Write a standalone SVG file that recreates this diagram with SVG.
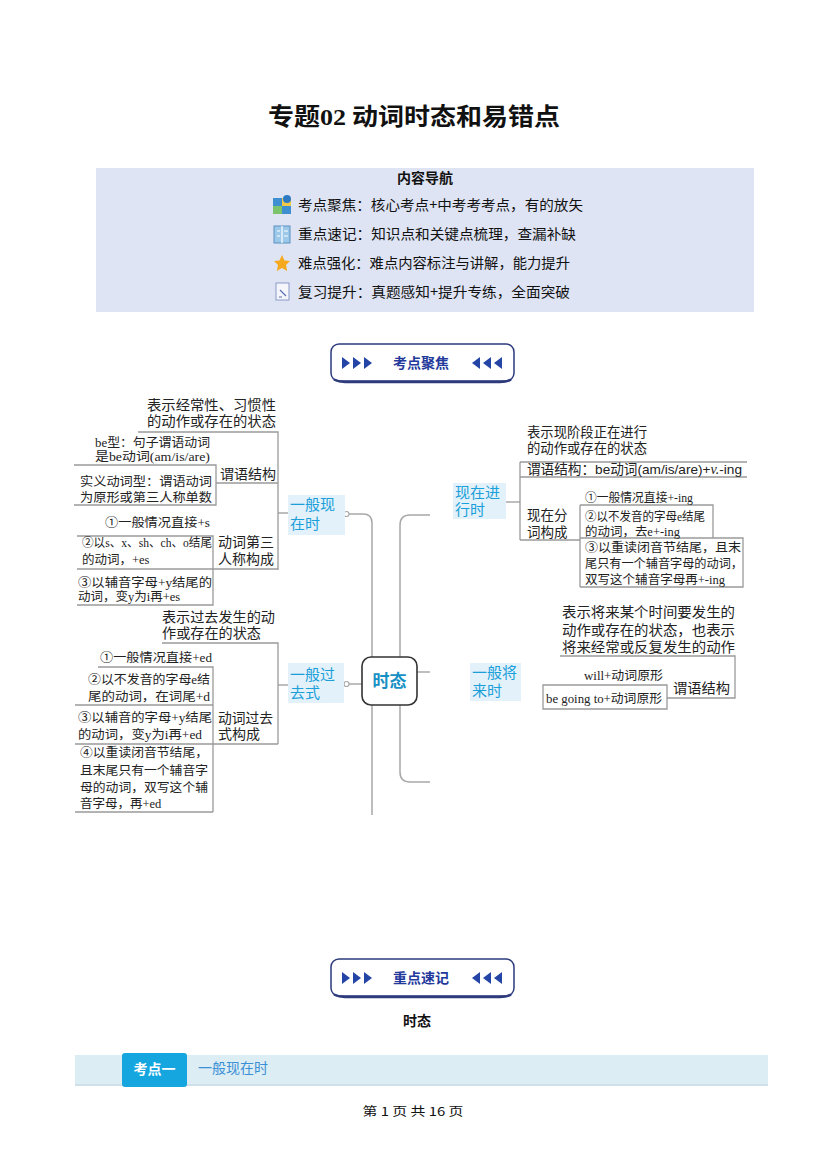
<svg xmlns="http://www.w3.org/2000/svg" width="827" height="1169" viewBox="0 0 827 1169">
<style>
.t{font-family:"Liberation Sans","Noto Sans CJK SC",sans-serif;fill:#222;}
.s{font-size:12.5px;font-family:"Liberation Serif","Noto Sans CJK SC",serif;}
.m{font-size:14px;}
.br{font-family:"Liberation Sans","Noto Sans CJK SC",sans-serif;font-size:15px;fill:#1a9fd9;}
.nb{fill:#e3f1fb;}
.ln{fill:none;stroke:#9a9a9a;stroke-width:1.3;}
.cn{fill:none;stroke:#a8a8a8;stroke-width:1.5;}
.bn{fill:#fff;stroke:#2d3b7d;stroke-width:1.5;}
.tri{fill:#2444a6;}
.bt{font-family:"Noto Sans CJK SC",sans-serif;font-size:14px;font-weight:bold;fill:#23399b;}
.nav{font-family:"Noto Sans CJK SC",sans-serif;font-size:14px;fill:#111;}
</style>
<defs>
<g id="tr"><path d="M0 -6 L8 0 L0 6 Z"/></g>
<g id="tl"><path d="M8 -6 L0 0 L8 6 Z"/></g>
</defs>
<rect width="827" height="1169" fill="#fff"/>

<g id="title">
<text x="414" y="125" text-anchor="middle" font-family="'Noto Sans CJK SC',sans-serif" font-size="24" font-weight="bold" fill="#111" textLength="292" lengthAdjust="spacingAndGlyphs"><tspan>专题</tspan><tspan font-family="'Liberation Serif',serif">02</tspan><tspan>  动词时态和易错点</tspan></text>
</g>

<g id="nav">
<rect x="96" y="168" width="658" height="144" fill="#dee4f3"/>
<text x="425" y="183" text-anchor="middle" class="nav" font-weight="bold">内容导航</text>
<g id="icon1">
<rect x="273" y="198" width="18" height="16" fill="#3d8fd0"/>
<rect x="273" y="206" width="9" height="8" fill="#7cc36b"/>
<rect x="282" y="198" width="9" height="8" fill="#f2c84b"/>
<circle cx="287" cy="199" r="4" fill="#2e7bc4"/>
</g>
<text x="298" y="210" class="nav" textLength="285" lengthAdjust="spacingAndGlyphs">考点聚焦：核心考点+中考考考点，有的放矢</text>
<g id="icon2">
<rect x="274" y="226" width="16" height="17" fill="#9cc9ea" stroke="#5a8fbf" stroke-width="1"/>
<path d="M282 226 V243 M277 231 H280 M284 231 H288 M277 236 H280 M284 236 H288" stroke="#fff" stroke-width="1.2"/>
</g>
<text x="298" y="239" class="nav" textLength="278" lengthAdjust="spacingAndGlyphs">重点速记：知识点和关键点梳理，查漏补缺</text>
<g id="icon3">
<path d="M282 255 L284.5 260.5 L290 261 L286 265 L287.2 271 L282 268 L276.8 271 L278 265 L274 261 L279.5 260.5 Z" fill="#f4a91e"/>
</g>
<text x="298" y="268" class="nav" textLength="272" lengthAdjust="spacingAndGlyphs">难点强化：难点内容标注与讲解，能力提升</text>
<g id="icon4">
<rect x="276" y="283" width="13" height="17" fill="#f4f6fb" stroke="#8a9ac8" stroke-width="1"/>
<path d="M280 290 L286 296 M279 297 H282" stroke="#5a6fb0" stroke-width="1.2"/>
</g>
<text x="298" y="297" class="nav" textLength="272" lengthAdjust="spacingAndGlyphs">复习提升：真题感知+提升专练，全面突破</text>
</g>

<g id="banner1">
<rect x="331" y="344" width="183" height="37" rx="8" class="bn"/>
<path d="M334 379.5 Q339 382 345 382 H500 Q507 382 511 379.5" fill="none" stroke="#2d3b7d" stroke-width="2.5"/>
<use href="#tr" x="342" y="363" class="tri"/>
<use href="#tr" x="353" y="363" class="tri"/>
<use href="#tr" x="364" y="363" class="tri"/>
<text x="421" y="368" text-anchor="middle" class="bt">考点聚焦</text>
<use href="#tl" x="472" y="363" class="tri"/>
<use href="#tl" x="483" y="363" class="tri"/>
<use href="#tl" x="494" y="363" class="tri"/>
</g>

<g id="connectors">
<path class="cn" d="M349 514 H363 Q372 514 372 523 V815"/>
<path class="cn" d="M430 515 H410 Q400 515 400 525 V772 Q400 782 410 782 H430"/>
<path class="cn" d="M417 672 H430"/>
<path class="cn" d="M349 684 H362"/>
<path class="cn" d="M278 513 H288"/>
<path class="cn" d="M278 685 H288"/>
<path class="cn" d="M506 502 H520"/>
<circle cx="346.5" cy="514" r="2.5" fill="#fff" stroke="#a8a8a8" stroke-width="1.2"/>
<circle cx="346.5" cy="684" r="2.5" fill="#fff" stroke="#a8a8a8" stroke-width="1.2"/>
</g>

<g id="center-node">
<rect x="362" y="657" width="55" height="48" rx="9" fill="#fff" stroke="#333" stroke-width="1.6"/>
<text x="389.5" y="687" text-anchor="middle" font-family="'Noto Sans CJK SC',sans-serif" font-size="17" font-weight="bold" fill="#1690c4">时态</text>
</g>

<g id="node-present-simple">
<rect x="288" y="495" width="57" height="40" class="nb"/>
<text class="br"><tspan x="290" y="510">一般现</tspan><tspan x="290" y="529">在时</tspan></text>
</g>
<g id="present-simple-tree">
<path class="ln" d="M138 432 H278 V570"/>
<text class="t m"><tspan x="147" y="410" textLength="129" lengthAdjust="spacingAndGlyphs">表示经常性、习惯性</tspan><tspan x="147" y="426" textLength="129" lengthAdjust="spacingAndGlyphs">的动作或存在的状态</tspan></text>
<text class="t s"><tspan x="95" y="447" textLength="115" lengthAdjust="spacingAndGlyphs">be型：句子谓语动词</tspan><tspan x="95" y="461" textLength="115" lengthAdjust="spacingAndGlyphs">是be动词(am/is/are)</tspan></text>
<path class="ln" d="M74 465 H216 V505 H74"/>
<path class="ln" d="M216 483 H278"/>
<text x="220" y="479" class="t m" textLength="56" lengthAdjust="spacingAndGlyphs">谓语结构</text>
<text class="t s"><tspan x="80" y="486" textLength="132" lengthAdjust="spacingAndGlyphs">实义动词型：谓语动词</tspan><tspan x="80" y="502" textLength="132" lengthAdjust="spacingAndGlyphs">为原形或第三人称单数</tspan></text>
<text x="105" y="527" class="t s" textLength="105" lengthAdjust="spacingAndGlyphs">①一般情况直接+s</text>
<path class="ln" d="M77 536 H213 V605 H77 M77 569 H278"/>
<text class="t s"><tspan x="82" y="547" textLength="130" lengthAdjust="spacingAndGlyphs">②以s、x、sh、ch、o结尾</tspan><tspan x="82" y="564">的动词，+es</tspan></text>
<text class="t m"><tspan x="218" y="547" textLength="56" lengthAdjust="spacingAndGlyphs">动词第三</tspan><tspan x="218" y="564" textLength="56" lengthAdjust="spacingAndGlyphs">人称构成</tspan></text>
<text class="t s"><tspan x="78" y="587" textLength="134" lengthAdjust="spacingAndGlyphs">③以辅音字母+y结尾的</tspan><tspan x="78" y="601">动词，变y为i再+es</tspan></text>
</g>

<g id="node-past-simple">
<rect x="288" y="663" width="56" height="40" class="nb"/>
<text class="br"><tspan x="290" y="680">一般过</tspan><tspan x="290" y="698">去式</tspan></text>
</g>
<g id="past-simple-tree">
<path class="ln" d="M162 643 H278 V744"/>
<text class="t m"><tspan x="162" y="622" textLength="113" lengthAdjust="spacingAndGlyphs">表示过去发生的动</tspan><tspan x="162" y="638" textLength="99" lengthAdjust="spacingAndGlyphs">作或存在的状态</tspan></text>
<text x="100" y="662" class="t s" textLength="112" lengthAdjust="spacingAndGlyphs">①一般情况直接+ed</text>
<path class="ln" d="M98 667 H213 V812 M75 705 H213 M75 744 H278 M75 812 H213"/>
<text class="t s"><tspan x="88" y="684" textLength="122" lengthAdjust="spacingAndGlyphs">②以不发音的字母e结</tspan><tspan x="88" y="701" textLength="122" lengthAdjust="spacingAndGlyphs">尾的动词，在词尾+d</tspan></text>
<text class="t s"><tspan x="78" y="722" textLength="134" lengthAdjust="spacingAndGlyphs">③以辅音的字母+y结尾</tspan><tspan x="78" y="739" textLength="124" lengthAdjust="spacingAndGlyphs">的动词，变y为i再+ed</tspan></text>
<text class="t m"><tspan x="218" y="723" textLength="55" lengthAdjust="spacingAndGlyphs">动词过去</tspan><tspan x="218" y="739" textLength="42" lengthAdjust="spacingAndGlyphs">式构成</tspan></text>
<text class="t s"><tspan x="80" y="757" textLength="128" lengthAdjust="spacingAndGlyphs">④以重读闭音节结尾，</tspan><tspan x="80" y="775" textLength="128" lengthAdjust="spacingAndGlyphs">且末尾只有一个辅音字</tspan><tspan x="80" y="792" textLength="128" lengthAdjust="spacingAndGlyphs">母的动词，双写这个辅</tspan><tspan x="80" y="808">音字母，再+ed</tspan></text>
</g>

<g id="node-present-progressive">
<rect x="453" y="483" width="53" height="36" class="nb"/>
<text class="br"><tspan x="455" y="498">现在进</tspan><tspan x="455" y="515">行时</tspan></text>
</g>
<g id="present-progressive-tree">
<path class="ln" d="M520 462 H747 M520 462 V540 M520 477 H747 M520 540 H580 M580 505 V587 M580 505 H713 V538 M580 538 H743 V587 H580"/>
<text class="t" font-size="13.5"><tspan x="527" y="437" textLength="120" lengthAdjust="spacingAndGlyphs">表示现阶段正在进行</tspan><tspan x="527" y="453" textLength="120" lengthAdjust="spacingAndGlyphs">的动作或存在的状态</tspan></text>
<text class="t" font-size="13.5" x="527" y="474" textLength="215" lengthAdjust="spacingAndGlyphs"><tspan>谓语结构：be动词(am/is/are)+</tspan><tspan font-style="italic" font-family="'Liberation Serif',serif" font-size="14">v.</tspan><tspan>-ing</tspan></text>
<text class="t" font-size="13.5"><tspan x="527" y="520">现在分</tspan><tspan x="527" y="537">词构成</tspan></text>
<text class="t s"><tspan x="585" y="502" textLength="108" lengthAdjust="spacingAndGlyphs">①一般情况直接+-ing</tspan><tspan x="585" y="521" textLength="120" lengthAdjust="spacingAndGlyphs">②以不发音的字母e结尾</tspan><tspan x="585" y="536" textLength="95" lengthAdjust="spacingAndGlyphs">的动词，去e+-ing</tspan></text>
<text class="t s"><tspan x="585" y="552" textLength="156" lengthAdjust="spacingAndGlyphs">③以重读闭音节结尾，且末</tspan><tspan x="585" y="568" textLength="158" lengthAdjust="spacingAndGlyphs">尾只有一个辅音字母的动词，</tspan><tspan x="585" y="584" textLength="140" lengthAdjust="spacingAndGlyphs">双写这个辅音字母再+-ing</tspan></text>
</g>

<g id="node-future-simple">
<rect x="470" y="663" width="51" height="38" class="nb"/>
<text class="br"><tspan x="472" y="678">一般将</tspan><tspan x="472" y="696">来时</tspan></text>
</g>
<g id="future-simple-tree">
<path class="ln" d="M560 656 H735 V698 H667 M583 685 H667 V709 H543 V685 H583"/>
<text class="t m"><tspan x="562" y="617" textLength="173" lengthAdjust="spacingAndGlyphs">表示将来某个时间要发生的</tspan><tspan x="562" y="635" textLength="173" lengthAdjust="spacingAndGlyphs">动作或存在的状态，也表示</tspan><tspan x="562" y="652" textLength="173" lengthAdjust="spacingAndGlyphs">将来经常或反复发生的动作</tspan></text>
<text x="673" y="693" class="t m" textLength="57" lengthAdjust="spacingAndGlyphs">谓语结构</text>
<text class="t s"><tspan x="584" y="680" textLength="79" lengthAdjust="spacingAndGlyphs">will+动词原形</tspan><tspan x="546" y="703" textLength="116" lengthAdjust="spacingAndGlyphs">be going to+动词原形</tspan></text>
</g>

<g id="banner2">
<rect x="331" y="959" width="183" height="37" rx="8" class="bn"/>
<path d="M334 994.5 Q339 997 345 997 H500 Q507 997 511 994.5" fill="none" stroke="#2d3b7d" stroke-width="2.5"/>
<use href="#tr" x="342" y="978" class="tri"/>
<use href="#tr" x="353" y="978" class="tri"/>
<use href="#tr" x="364" y="978" class="tri"/>
<text x="421" y="983" text-anchor="middle" class="bt">重点速记</text>
<use href="#tl" x="472" y="978" class="tri"/>
<use href="#tl" x="483" y="978" class="tri"/>
<use href="#tl" x="494" y="978" class="tri"/>
</g>

<g id="heading">
<text x="417" y="1026" text-anchor="middle" font-family="'Noto Sans CJK SC',sans-serif" font-size="14" font-weight="bold" fill="#111">时态</text>
</g>

<g id="section1">
<rect x="75" y="1055" width="693" height="31" fill="#dcedf4"/>
<rect x="75" y="1084" width="693" height="2" fill="#cfe0e8"/>
<rect x="122" y="1053" width="65" height="34" rx="3" fill="#15a6e0"/>
<text x="154.5" y="1074" text-anchor="middle" font-family="'Noto Sans CJK SC',sans-serif" font-size="14" font-weight="bold" fill="#fff">考点一</text>
<text x="198" y="1073" font-family="'Noto Sans CJK SC',sans-serif" font-size="14" fill="#3b8fd4">一般现在时</text>
</g>

<g id="footer">
<text x="413" y="1116" text-anchor="middle" font-family="'Noto Sans CJK SC',sans-serif" font-size="12" fill="#111" textLength="101" lengthAdjust="spacingAndGlyphs">第 1 页 共 16 页</text>
</g>
</svg>
